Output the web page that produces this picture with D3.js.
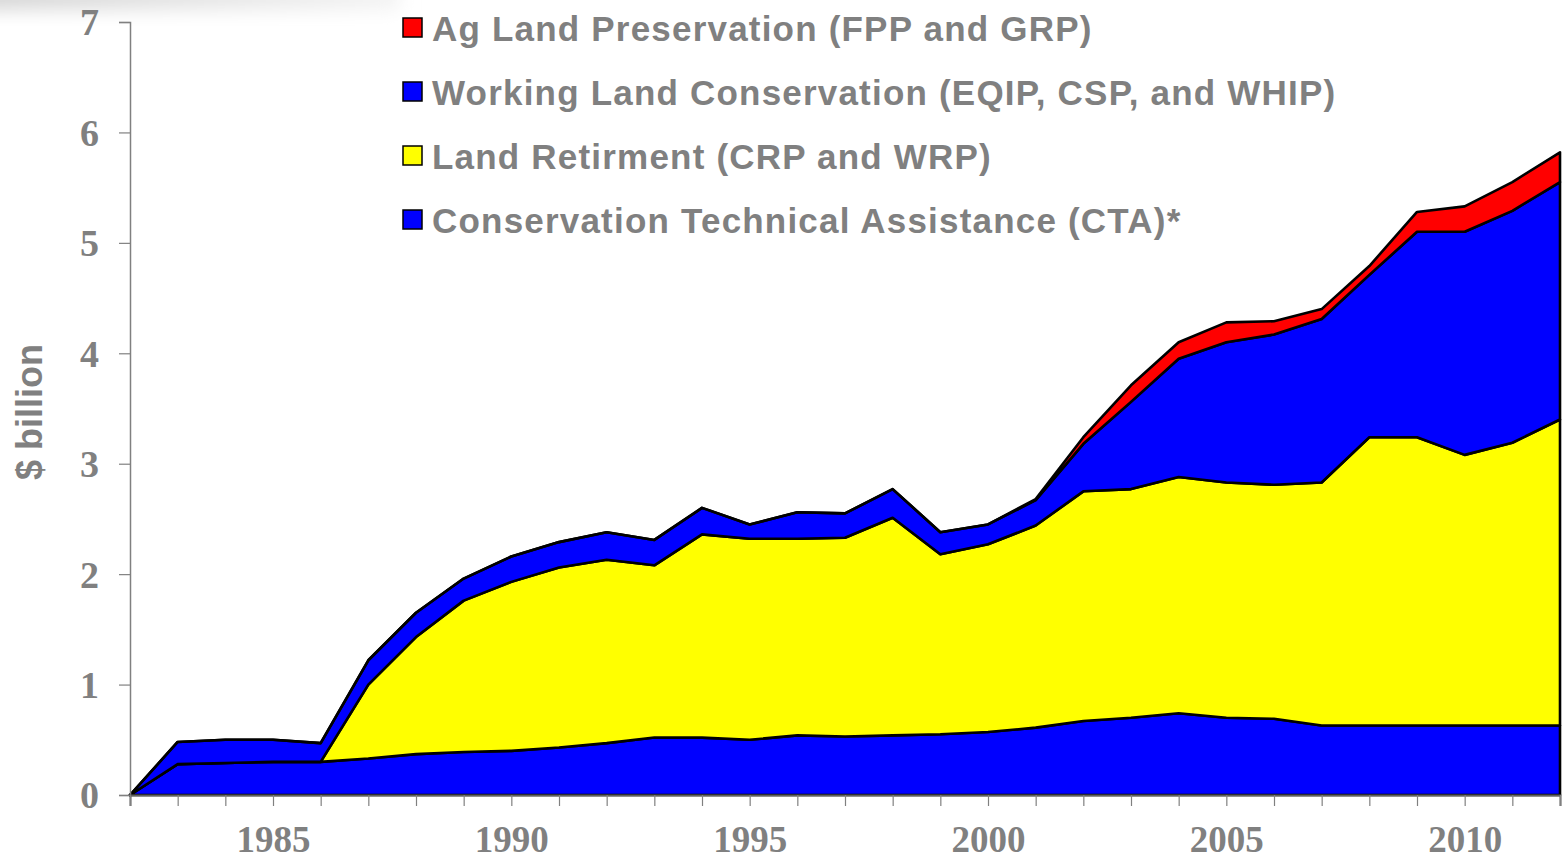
<!DOCTYPE html>
<html>
<head>
<meta charset="utf-8">
<script src="https://cdn.jsdelivr.net/npm/d3@7"></script>
<style>
  body { margin: 0; background: #fff; }
  svg { display: block; }
  .tick-label { font-family: "Liberation Serif", "Times New Roman", serif; font-weight: bold; fill: #808080; }
  .legend-text, .y-title { font-family: "Liberation Sans", Arial, sans-serif; font-weight: bold; fill: #808080; }
</style>
</head>
<body>
<div id="chart"></div>
<script>
// years on the x axis
var years = d3.range(1982, 2013);

// $ billion per program (1982..2012)
var cta = [0, 0.28, 0.29, 0.30, 0.30, 0.33, 0.37, 0.39, 0.40, 0.43, 0.47, 0.52, 0.52, 0.50, 0.54, 0.53,
           0.54, 0.55, 0.57, 0.61, 0.67, 0.70, 0.74, 0.70, 0.69, 0.63, 0.63, 0.63, 0.63, 0.63, 0.63];
var landRetirement = [0, 0, 0, 0, 0, 0.67, 1.06, 1.37, 1.53, 1.63, 1.66, 1.56, 1.84, 1.82, 1.78, 1.80,
           1.97, 1.63, 1.70, 1.83, 2.08, 2.07, 2.14, 2.13, 2.12, 2.20, 2.61, 2.61, 2.45, 2.56, 2.77];
var workingLand = [0, 0.20, 0.21, 0.20, 0.17, 0.22, 0.22, 0.20, 0.23, 0.23, 0.25, 0.23, 0.24, 0.13, 0.24, 0.22,
           0.26, 0.20, 0.18, 0.23, 0.43, 0.79, 1.07, 1.27, 1.36, 1.48, 1.47, 1.86, 2.02, 2.10, 2.15];
var agPreservation = [0, 0, 0, 0, 0, 0, 0, 0, 0, 0, 0, 0, 0, 0, 0, 0,
           0, 0, 0, 0.01, 0.06, 0.15, 0.15, 0.18, 0.12, 0.09, 0.08, 0.18, 0.23, 0.26, 0.27];

var seriesKeys = ["cta", "retire", "working", "ag"];
var seriesColors = {cta: "#0000ff", retire: "#ffff00", working: "#0000ff", ag: "#ff0000"};

// legend, top to bottom
var legendLabels = ["Ag Land Preservation (FPP and GRP)",
                    "Working Land Conservation (EQIP, CSP, and WHIP)",
                    "Land Retirment (CRP and WRP)",
                    "Conservation Technical Assistance (CTA)*"];
var legendKeys = ["ag", "working", "retire", "cta"];

var yTicks = [0, 1, 2, 3, 4, 5, 6, 7];
var xLabelYears = [1985, 1990, 1995, 2000, 2005, 2010];

var width = 1562, height = 861;
var margin = {top: 22, right: 2, bottom: 66, left: 130};
var plotW = width - margin.left - margin.right;
var plotH = height - margin.top - margin.bottom;

var table = years.map(function (y, i) {
    return {year: y, cta: cta[i], retire: landRetirement[i], working: workingLand[i], ag: agPreservation[i]};
});

var svg = d3.select("#chart").append("svg")
    .attr("width", width)
    .attr("height", height);

// faint slide shadow in the top left corner
var defs = svg.append("defs");
defs.append("filter").attr("id", "blur")
    .attr("x", "-50%").attr("y", "-50%").attr("width", "200%").attr("height", "200%")
    .append("feGaussianBlur").attr("stdDeviation", 9);
var grad = defs.append("linearGradient").attr("id", "fade");
grad.append("stop").attr("offset", "0%").attr("stop-color", "#d4d4d4");
grad.append("stop").attr("offset", "100%").attr("stop-color", "#f4f4f4");
svg.append("rect")
    .attr("x", -40).attr("y", -22).attr("width", 440).attr("height", 32)
    .attr("fill", "url(#fade)")
    .attr("filter", "url(#blur)");

var g = svg.append("g")
    .attr("transform", "translate(" + margin.left + "," + margin.top + ")");

var x = d3.scaleLinear().domain([1982, 2012]).range([0, plotW]);
var y = d3.scaleLinear().domain([0, 7]).range([plotH, 0]);

var stacked = d3.stack().keys(seriesKeys)(table);

var area = d3.area()
    .x(function (d) { return x(d.data.year); })
    .y0(function (d) { return y(d[0]); })
    .y1(function (d) { return y(d[1]); });

g.append("g").selectAll("path")
    .data(stacked)
    .enter().append("path")
    .attr("d", area)
    .attr("fill", function (d) { return seriesColors[d.key]; })
    .attr("stroke", "#000")
    .attr("stroke-width", 2.6)
    .attr("stroke-linejoin", "round");

// y axis
var yAxis = g.append("g")
    .call(d3.axisLeft(y).tickValues(yTicks).tickSize(11).tickPadding(20).tickFormat(d3.format("d")));
yAxis.select(".domain").attr("stroke", "#808080").attr("stroke-width", 1.5);
yAxis.selectAll(".tick line").attr("stroke", "#808080").attr("stroke-width", 1.2);
yAxis.selectAll(".tick text")
    .attr("class", "tick-label")
    .style("font-size", "38px")
    .attr("dy", "0.34em");

// x axis
var xAxis = g.append("g")
    .attr("transform", "translate(0," + plotH + ")")
    .call(d3.axisBottom(x).tickValues(years).tickSize(11)
        .tickFormat(function (d) { return xLabelYears.indexOf(d) > -1 ? d : ""; }));
xAxis.select(".domain").attr("stroke", "#606060").attr("stroke-width", 2);
xAxis.selectAll(".tick line").attr("stroke", "#808080").attr("stroke-width", 1.2);
xAxis.selectAll(".tick text")
    .attr("class", "tick-label")
    .style("font-size", "37px")
    .attr("y", 57)
    .attr("dy", 0);

// y title
svg.append("text")
    .attr("class", "y-title")
    .attr("transform", "translate(42,412) rotate(-90)")
    .attr("text-anchor", "middle")
    .style("font-size", "36px")
    .text("$ billion");

// legend
var legend = svg.append("g").attr("transform", "translate(403,28)");
var rows = legend.selectAll("g")
    .data(legendKeys)
    .enter().append("g")
    .attr("transform", function (d, i) { return "translate(0," + (i * 64) + ")"; });

rows.append("rect")
    .attr("x", 0).attr("y", -10)
    .attr("width", 19).attr("height", 19)
    .attr("fill", function (d) { return seriesColors[d]; })
    .attr("stroke", "#000")
    .attr("stroke-width", 1.5);

rows.append("text")
    .attr("class", "legend-text")
    .attr("x", 29)
    .attr("dy", "0.36em")
    .style("font-size", "35px")
    .style("letter-spacing", "1.2px")
    .text(function (d, i) { return legendLabels[i]; });
</script>
</body>
</html>
